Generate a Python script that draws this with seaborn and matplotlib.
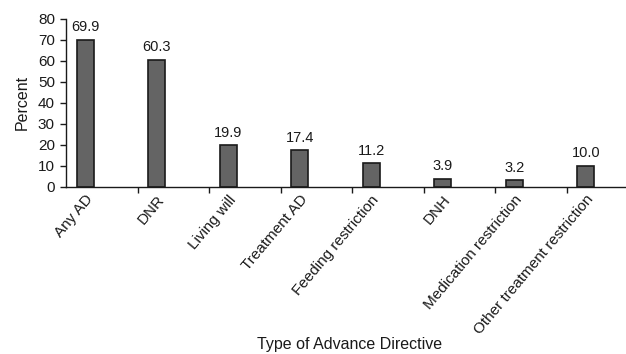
import matplotlib
matplotlib.use("Agg")
import matplotlib.pyplot as plt
import seaborn as sns
import pandas as pd
import numpy as np
from matplotlib.ticker import FixedLocator

categories = ["Any AD", "DNR", "Living will", "Treatment AD", "Feeding restriction",
              "DNH", "Medication restriction", "Other treatment restriction"]
percent = [69.9, 60.3, 19.9, 17.4, 11.2, 3.9, 3.2, 10.0]
y_ticks = [0, 10, 20, 30, 40, 50, 60, 70, 80]

df = pd.DataFrame({"directive": categories, "percent": percent})

sns.set_theme(style="ticks")
plt.rcParams["font.family"] = ["Liberation Sans", "DejaVu Sans"]

fig = plt.figure(figsize=(6.26, 3.54), dpi=100)
ax = fig.add_axes([66 / 626, 167 / 354, 572 / 626, 168.5 / 354])

sns.barplot(data=df, x="directive", y="percent", ax=ax, color="#646464",
            width=0.24, edgecolor="#1a1a1a", linewidth=1.2, saturation=1)

# value labels above each bar
ax.bar_label(ax.containers[0], labels=[f"{v:.1f}" for v in percent],
             padding=4, fontsize=10.5, color="#1a1a1a")

n = len(categories)
ax.set_xlim(-0.27, n - 0.27)
ax.set_ylim(0, 80)
ax.set_yticks(y_ticks)
ax.tick_params(axis="y", labelsize=11, length=4, width=1, color="#1a1a1a",
               labelcolor="#1a1a1a", pad=4)

# category boundary tick marks; labels sit under each bar
ax.xaxis.set_minor_locator(FixedLocator(np.arange(n) + 0.73))
ax.tick_params(axis="x", which="major", length=0, pad=4)
ax.tick_params(axis="x", which="minor", length=4, width=1, color="#1a1a1a")
ax.set_xticks(range(n))
ax.set_xticklabels(categories, rotation=50, ha="right", va="top",
                   rotation_mode="anchor", fontsize=11, color="#1a1a1a")

for side in ["top", "right"]:
    ax.spines[side].set_visible(False)
for side in ["left", "bottom"]:
    ax.spines[side].set_color("#1a1a1a")
    ax.spines[side].set_linewidth(1)

ax.set_ylabel("Percent", fontsize=11.5, color="#1a1a1a", labelpad=6)
ax.set_xlabel("")
fig.text(350 / 626, 1 - 345 / 354, "Type of Advance Directive", ha="center",
         va="center", fontsize=11.5, color="#1a1a1a")

fig.savefig("out.png", dpi=100)
